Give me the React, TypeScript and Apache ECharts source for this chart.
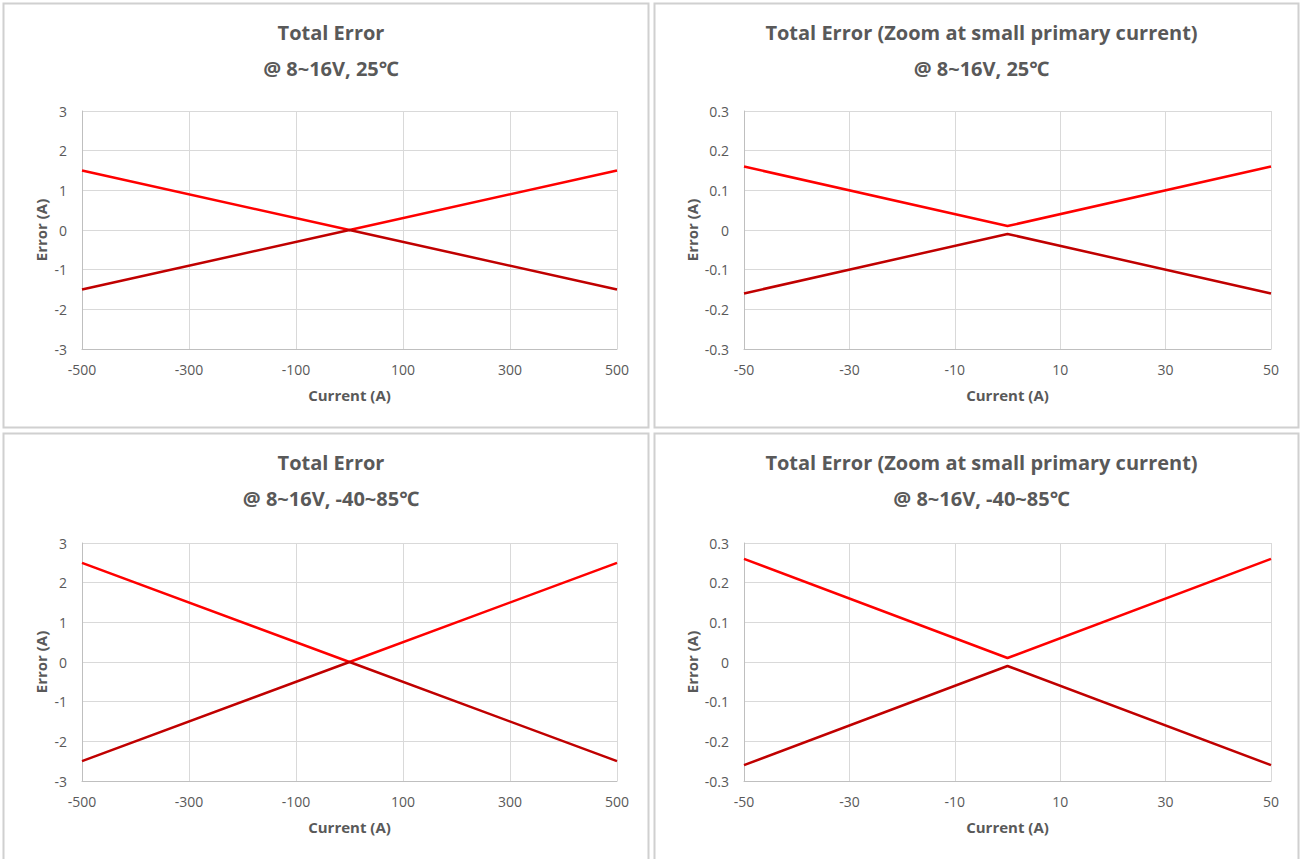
import React, { useEffect, useRef } from "react";
import * as echarts from "echarts";

// Tick labels
const xTicksWide = [-500, -300, -100, 100, 300, 500];
const xTicksZoom = [-50, -30, -10, 10, 30, 50];

// Current (A) sample points
const currentWide = [-500, 0, 500];
const currentZoom = [-50, 0, 50];

// Error (A) values
const tlUpper = [1.5, 0, 1.5];
const tlLower = [-1.5, 0, -1.5];
const trUpper = [0.16, 0.01, 0.16];
const trLower = [-0.16, -0.01, -0.16];
const blUpper = [2.5, 0, 2.5];
const blLower = [-2.5, 0, -2.5];
const brUpper = [0.26, 0.01, 0.26];
const brLower = [-0.26, -0.01, -0.26];

const titles = [
  "Total Error\n@ 8~16V, 25℃",
  "Total Error (Zoom at small primary current)\n@ 8~16V, 25℃",
  "Total Error\n@ 8~16V, -40~85℃",
  "Total Error (Zoom at small primary current)\n@ 8~16V, -40~85℃",
];

const FONT = "'Open Sans', 'Noto Sans', sans-serif";
const TXT = "#595959";
const GRIDC = "#D9D9D9";
const AXC = "#BFBFBF";
const RED = "#FF0000";
const DARK = "#C00000";

export default function App() {
  const ref = useRef<HTMLDivElement>(null);
  useEffect(() => {
    if (!ref.current) return;
    const chart = echarts.init(ref.current, undefined, { renderer: "svg" });

    const panels = [
      { px: 3, py: 3, w: 646, h: 425, gl: 82, gt: 111, gw: 535, gh: 238, ticks: xTicksWide, xs: currentWide, up: tlUpper, lo: tlLower, ymax: 3, yint: 1, xr: 500 },
      { px: 654, py: 3, w: 645, h: 425, gl: 744, gt: 111, gw: 527, gh: 238, ticks: xTicksZoom, xs: currentZoom, up: trUpper, lo: trLower, ymax: 0.3, yint: 0.1, xr: 50 },
      { px: 3, py: 433, w: 646, h: 440, gl: 82, gt: 543, gw: 535, gh: 238, ticks: xTicksWide, xs: currentWide, up: blUpper, lo: blLower, ymax: 3, yint: 1, xr: 500 },
      { px: 654, py: 433, w: 645, h: 440, gl: 744, gt: 543, gw: 527, gh: 238, ticks: xTicksZoom, xs: currentZoom, up: brUpper, lo: brLower, ymax: 0.3, yint: 0.1, xr: 50 },
    ];

    const grid: any[] = [];
    const xAxis: any[] = [];
    const yAxis: any[] = [];
    const series: any[] = [];
    const title: any[] = [];
    const graphic: any[] = [];

    panels.forEach((p, i) => {
      graphic.push({
        type: "rect",
        shape: { x: p.px + 0.5, y: p.py + 0.5, width: p.w - 1, height: p.h - 1 },
        style: { fill: "#fff", stroke: "#D0D0D0", lineWidth: 2 },
        z: -10,
        silent: true,
      });
      title.push({
        text: titles[i],
        left: p.px + p.w / 2,
        top: p.py + 6,
        padding: 5,
        textAlign: "center",
        textStyle: { fontFamily: FONT, fontSize: 20, fontWeight: "bold", color: TXT, lineHeight: 36 },
      });
      grid.push({ left: p.gl, top: p.gt, width: p.gw, height: p.gh, containLabel: false });
      // display axis (tick labels & vertical grid lines)
      xAxis.push({
        type: "category",
        gridIndex: i,
        data: p.ticks.map(String),
        boundaryGap: false,
        name: "Current (A)",
        nameLocation: "middle",
        nameGap: 38,
        nameTextStyle: { fontFamily: FONT, fontSize: 15, fontWeight: "bold", color: TXT },
        axisLine: { show: true, onZero: false, lineStyle: { color: AXC, width: 1 } },
        axisTick: { show: false },
        axisLabel: { interval: 0, margin: 13, fontFamily: FONT, fontSize: 14, color: TXT },
        splitLine: { show: true, interval: 0, lineStyle: { color: GRIDC, width: 1 } },
      });
      // data axis (hidden)
      xAxis.push({
        type: "value",
        gridIndex: i,
        min: -p.xr,
        max: p.xr,
        show: false,
        axisLine: { show: false, onZero: false },
        splitLine: { show: false },
      });
      yAxis.push({
        type: "value",
        gridIndex: i,
        min: -p.ymax,
        max: p.ymax,
        interval: p.yint,
        name: "Error (A)",
        nameLocation: "middle",
        nameGap: i % 2 === 0 ? 34 : 45,
        nameTextStyle: { fontFamily: FONT, fontSize: 15, fontWeight: "bold", color: TXT },
        axisLine: { show: true, onZero: false, lineStyle: { color: AXC, width: 1 } },
        axisTick: { show: false },
        axisLabel: { margin: 15, fontFamily: FONT, fontSize: 14, color: TXT },
        splitLine: { show: true, lineStyle: { color: GRIDC, width: 1 } },
      });
      const mk = (vals: number[], color: string) => ({
        type: "line",
        xAxisIndex: i * 2 + 1,
        yAxisIndex: i,
        data: p.xs.map((x, k) => [x, vals[k]]),
        showSymbol: false,
        symbol: "none",
        lineStyle: { color, width: 2.5 },
        itemStyle: { color },
      });
      series.push(mk(p.up, RED));
      series.push(mk(p.lo, DARK));
    });

    chart.setOption({
      animation: false,
      backgroundColor: "#fff",
      title,
      grid,
      xAxis,
      yAxis,
      series,
      graphic,
    });
    return () => chart.dispose();
  }, []);
  return (
    <div
      ref={ref}
      style={{ position: "absolute", left: 0, top: 0, width: 1301, height: 859 }}
    />
  );
}
